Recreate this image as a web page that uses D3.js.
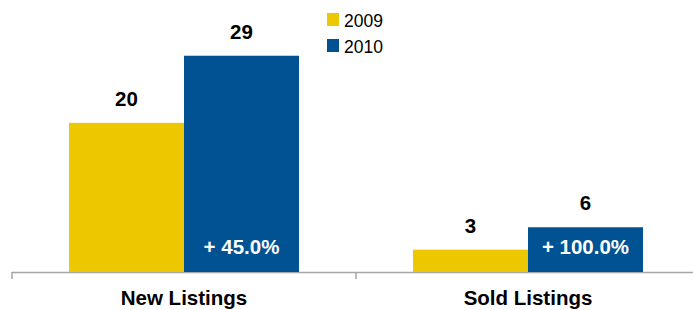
<!DOCTYPE html>
<html>
<head>
<meta charset="utf-8">
<script src="https://cdn.jsdelivr.net/npm/d3@7"></script>
<style>
  body { margin: 0; background: #fff; }
  svg { display: block; font-family: "Liberation Sans", Arial, sans-serif; }
</style>
</head>
<body>
<div id="plot"></div>
<script>
var categories = ["New Listings", "Sold Listings"];
var years = ["2009", "2010"];
var values2009 = [20, 3];
var values2010 = [29, 6];
var changeLabels = ["+ 45.0%", "+ 100.0%"];
var colors = ["#EDC800", "#005293"];

var width = 693, height = 310;
var axisY = 272;

var svg = d3.select("#plot").append("svg")
  .attr("width", width)
  .attr("height", height);

var data = categories.map(function(c, i) {
  return {cat: c, vals: [values2009[i], values2010[i]], change: changeLabels[i]};
});

var x0 = d3.scaleBand().domain(categories).range([12, 700])
  .paddingInner(0.3314).paddingOuter(0.1657);
var x1 = d3.scaleBand().domain(years).range([0, x0.bandwidth()]);
var y = d3.scaleLinear().domain([0, 35]).range([axisY, 11]);

// axis line and ticks
svg.append("line")
  .attr("x1", 12).attr("x2", width)
  .attr("y1", axisY + 0.5).attr("y2", axisY + 0.5)
  .attr("stroke", "#a6a6a6").attr("stroke-width", 1.5);

svg.selectAll(".tick")
  .data([12, x0.step() + 12])
  .enter().append("line")
  .attr("x1", function(d) { return d; }).attr("x2", function(d) { return d; })
  .attr("y1", axisY).attr("y2", axisY + 7)
  .attr("stroke", "#a6a6a6").attr("stroke-width", 1.5);

var groups = svg.selectAll(".grp")
  .data(data)
  .enter().append("g")
  .attr("transform", function(d) { return "translate(" + x0(d.cat) + ",0)"; });

groups.selectAll("rect")
  .data(function(d) { return d.vals.map(function(v, j) { return {year: years[j], v: v, j: j}; }); })
  .enter().append("rect")
  .attr("x", function(d) { return x1(d.year); })
  .attr("y", function(d) { return y(d.v); })
  .attr("width", x1.bandwidth())
  .attr("height", function(d) { return axisY - y(d.v); })
  .attr("fill", function(d) { return colors[d.j]; });

groups.selectAll(".val")
  .data(function(d) { return d.vals.map(function(v, j) { return {year: years[j], v: v}; }); })
  .enter().append("text")
  .attr("x", function(d) { return x1(d.year) + x1.bandwidth() / 2; })
  .attr("y", function(d) { return y(d.v) - 17; })
  .attr("text-anchor", "middle")
  .attr("font-weight", "bold")
  .attr("font-size", "20.5px")
  .attr("fill", "#000")
  .text(function(d) { return d.v; });

groups.append("text")
  .attr("x", x1("2010") + x1.bandwidth() / 2)
  .attr("y", axisY - 18)
  .attr("text-anchor", "middle")
  .attr("font-weight", "bold")
  .attr("font-size", "20.5px")
  .attr("fill", "#fff")
  .text(function(d) { return d.change; });

groups.append("text")
  .attr("x", x0.bandwidth() / 2)
  .attr("y", 305)
  .attr("text-anchor", "middle")
  .attr("font-weight", "bold")
  .attr("font-size", "20.5px")
  .attr("fill", "#000")
  .text(function(d) { return d.cat; });

// legend
var legend = svg.selectAll(".legend")
  .data(years)
  .enter().append("g")
  .attr("transform", function(d, i) { return "translate(327," + (13 + i * 26) + ")"; });

legend.append("rect")
  .attr("width", 12).attr("height", 13)
  .attr("fill", function(d, i) { return colors[i]; });

legend.append("text")
  .attr("x", 17).attr("y", 13.5)
  .attr("font-size", "17.5px")
  .attr("fill", "#000")
  .text(function(d) { return d; });
</script>
</body>
</html>
